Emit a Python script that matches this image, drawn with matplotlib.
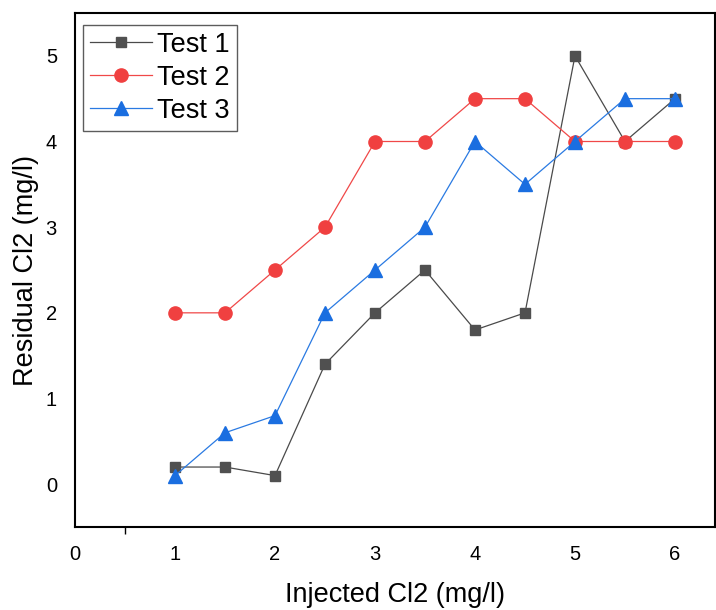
import matplotlib
matplotlib.use("Agg")
import matplotlib.pyplot as plt

plt.rcParams['font.family'] = ['Liberation Sans', 'DejaVu Sans']

x = [1, 1.5, 2, 2.5, 3, 3.5, 4, 4.5, 5, 5.5, 6]
test1 = [0.2, 0.2, 0.1, 1.4, 2.0, 2.5, 1.8, 2.0, 5.0, 4.0, 4.5]
test2 = [2.0, 2.0, 2.5, 3.0, 4.0, 4.0, 4.5, 4.5, 4.0, 4.0, 4.0]
test3 = [0.1, 0.6, 0.8, 2.0, 2.5, 3.0, 4.0, 3.5, 4.0, 4.5, 4.5]
xticks = [0, 1, 2, 3, 4, 5, 6]
yticks = [0, 1, 2, 3, 4, 5]

fig = plt.figure(figsize=(7.16, 6.10), dpi=100)
ax = fig.add_axes([75/716, 1-527/610, 640/716, 514/610])

ax.plot(x, test1, color='#4a4a4a', lw=0.9, marker='s', ms=7.5, mfc='#505050', mec='#505050', label='Test 1')
ax.plot(x, test2, color='#f04848', lw=0.9, marker='o', ms=9.5, mfc='#f04040', mec='#f04040', label='Test 2')
ax.plot(x, test3, color='#2a7ae2', lw=0.9, marker='^', ms=10, mfc='#1a6ee0', mec='#1a6ee0', label='Test 3')

ax.set_xlim(0, 6.4)
ax.set_ylim(-0.5, 5.5)
ax.set_xticks(xticks)
ax.set_yticks(yticks)
ax.set_xticklabels([str(v) for v in xticks], fontsize=14.5)
ax.set_yticklabels([str(v) for v in yticks], fontsize=14.5)
ax.tick_params(axis='x', length=0, pad=13)
ax.tick_params(axis='y', length=0, pad=13)
ax.set_xticks([0.5], minor=True)
ax.tick_params(axis='x', which='minor', length=5, width=1, direction='out')

for s in ax.spines.values():
    s.set_linewidth(1.5)

ax.set_xlabel('Injected Cl2 (mg/l)', fontsize=19.5, va='baseline')
ax.xaxis.set_label_coords(320/640, -(602-527)/514)
ax.set_ylabel('Residual Cl2 (mg/l)', fontsize=19.5, va='center')
ax.yaxis.set_label_coords(-(75-26)/640, 0.5)

leg = ax.legend(loc='upper left', bbox_to_anchor=(8/640, 1-12/514), fontsize=19.5,
                frameon=True, fancybox=False, edgecolor='#333333', borderaxespad=0,
                handlelength=2.3, handletextpad=0.2, labelspacing=0.26, borderpad=0.25,
                handleheight=0.7)
leg.get_frame().set_linewidth(1.0)

fig.savefig('out.png', dpi=100)
